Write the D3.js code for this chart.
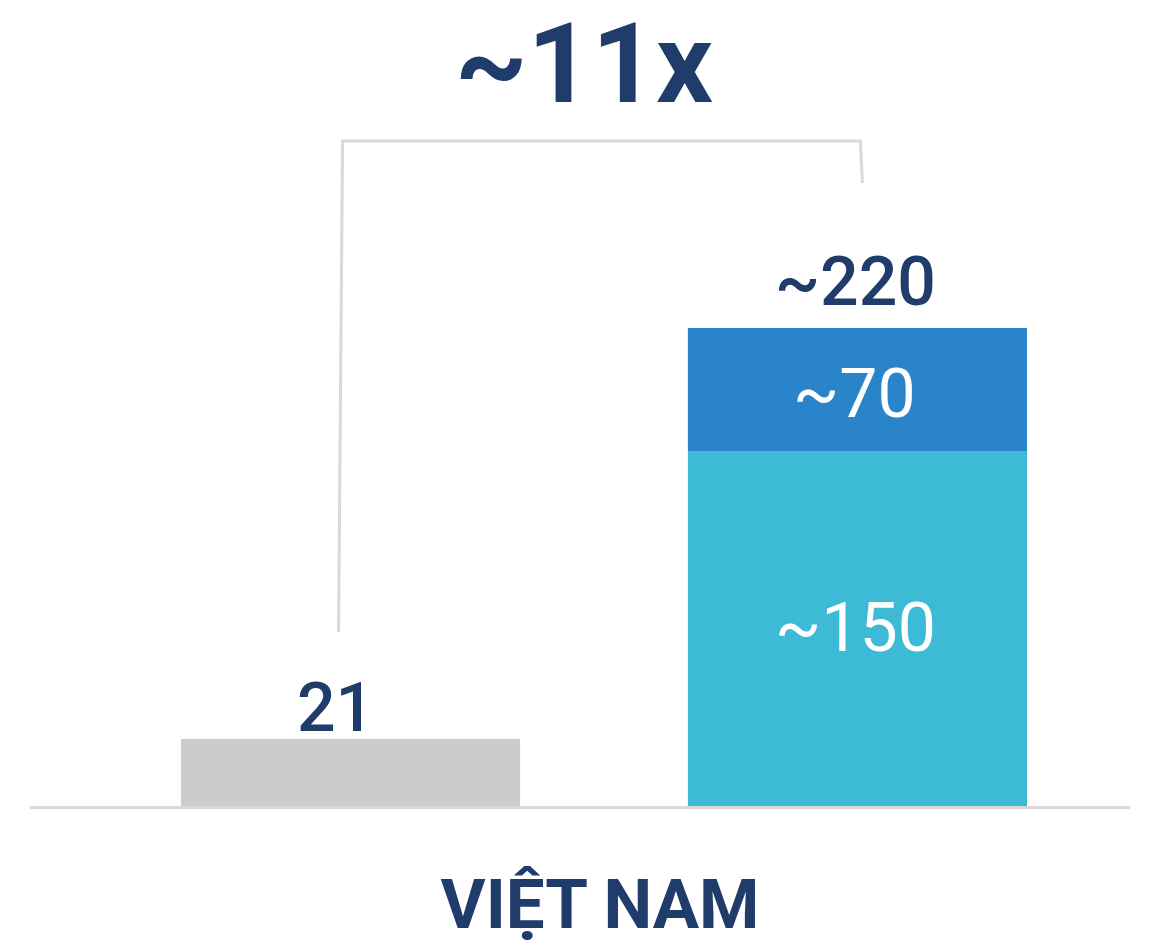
<!DOCTYPE html>
<html>
<head>
<meta charset="utf-8">
<script src="https://cdn.jsdelivr.net/npm/d3@7"></script>
<style>
  html, body { margin: 0; padding: 0; background: #fff; }
  svg { display: block; font-family: Roboto, "Noto Sans", sans-serif; }
</style>
</head>
<body>
<div id="chart"></div>
<script>
const WIDTH = 1158;
const HEIGHT = 941;

const NAVY = '#1f3c6a';

// data
const categories = ['current', 'potential'];
const baseValues = [21, 150];      // grey bar, light blue segment
const extraValues = [0, 70];       // dark blue segment on top
const valueLabels = ['21', '~150'];
const extraLabels = ['', '~70'];
const totalLabels = ['21', '~220'];
const totals = [21, 220];
const multiplierLabel = '~11x';
const countryLabel = 'VIỆT NAM';

var svg = d3.select("#chart").append("svg")
    .attr("width", WIDTH)
    .attr("height", HEIGHT);

var xScale = d3.scaleBand()
    .domain(categories)
    .range([181, 1027])
    .paddingInner(0.331)
    .paddingOuter(0);

// the original picture is not drawn to scale, so the scale is piecewise
var yScale = d3.scaleLinear()
    .domain([0, 21, 150, 220])
    .range([806, 739, 451, 328]);

// baseline
svg.append("line")
    .attr("x1", 30)
    .attr("x2", 1130)
    .attr("y1", 807.5)
    .attr("y2", 807.5)
    .attr("stroke", "#d9d9d9")
    .attr("stroke-width", 3);

// base bars
svg.selectAll("rect.base")
    .data(categories)
    .enter()
    .append("rect")
        .attr("class", "base")
        .attr("x", d => xScale(d))
        .attr("width", xScale.bandwidth())
        .attr("y", (d, i) => yScale(baseValues[i]))
        .attr("height", (d, i) => yScale(0) - yScale(baseValues[i]))
        .attr("fill", (d, i) => i === 0 ? "#cccccc" : "#3dbad5");

// stacked top segment
svg.selectAll("rect.extra")
    .data(categories.filter((d, i) => extraValues[i] > 0))
    .enter()
    .append("rect")
        .attr("class", "extra")
        .attr("x", d => xScale(d))
        .attr("width", xScale.bandwidth())
        .attr("y", d => {
            const i = categories.indexOf(d);
            return yScale(baseValues[i] + extraValues[i]);
        })
        .attr("height", d => {
            const i = categories.indexOf(d);
            return yScale(baseValues[i]) - yScale(baseValues[i] + extraValues[i]);
        })
        .attr("fill", "#2a84c9");

// labels above bars
svg.selectAll("text.total")
    .data(categories)
    .enter()
    .append("text")
        .attr("class", "total")
        .attr("x", d => xScale(d) + xScale.bandwidth() / 2 - (d === 'current' ? 15 : 2))
        .attr("y", (d, i) => yScale(totals[i]) - (d === 'current' ? 8 : 23))
        .attr("text-anchor", "middle")
        .attr("font-size", 68)
        .attr("font-weight", 500)
        .attr("fill", NAVY)
        .text((d, i) => totalLabels[i]);

// labels inside the stacked segments
const inner = svg.append("g")
    .attr("font-size", 68)
    .attr("font-weight", 400)
    .attr("fill", "#ffffff")
    .attr("text-anchor", "middle");

categories.forEach((d, i) => {
    if (extraValues[i] === 0) return;
    const cx = xScale(d) + xScale.bandwidth() / 2;
    inner.append("text")
        .attr("x", cx - 3)
        .attr("y", (yScale(baseValues[i]) + yScale(baseValues[i] + extraValues[i])) / 2 + 27)
        .text(extraLabels[i]);
    inner.append("text")
        .attr("x", cx - 2)
        .attr("y", (yScale(0) + yScale(baseValues[i])) / 2 + 22)
        .text(valueLabels[i]);
});

// bracket (slightly slanted sides, as in the original)
const leftX = xScale('current') + xScale.bandwidth() / 2 - 10;
const rightX = xScale('potential') + xScale.bandwidth() / 2 + 4;
const bracketTop = 141;
svg.append("path")
    .attr("d", `M${leftX - 2},${yScale(totals[0]) - 107}L${leftX + 2},${bracketTop}H${rightX - 1}L${rightX + 1},${yScale(totals[1]) - 145}`)
    .attr("fill", "none")
    .attr("stroke", "#d9d9d9")
    .attr("stroke-width", 3);

svg.append("text")
    .attr("x", 584)
    .attr("y", 102)
    .attr("text-anchor", "middle")
    .attr("font-size", 112)
    .attr("font-weight", 700)
    .attr("fill", NAVY)
    .text(multiplierLabel);

svg.append("text")
    .attr("x", 600)
    .attr("y", 928)
    .attr("text-anchor", "middle")
    .attr("font-size", 69)
    .attr("font-weight", 700)
    .attr("fill", NAVY)
    .text(countryLabel);
</script>
</body>
</html>
